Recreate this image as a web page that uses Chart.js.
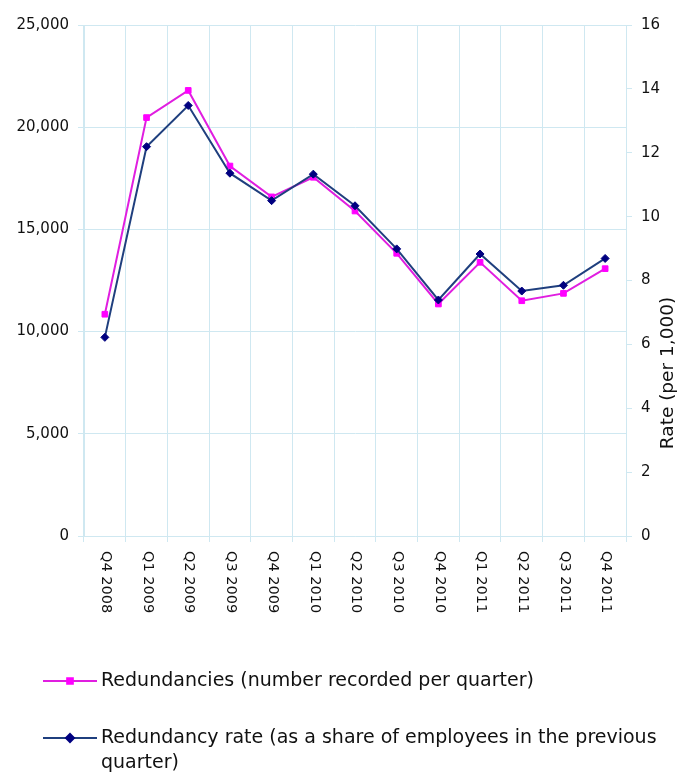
<!DOCTYPE html>
<html>
<head>
<meta charset="utf-8">
<script src="https://cdn.jsdelivr.net/npm/chart.js@4/dist/chart.umd.min.js"></script>
<style>
  html, body { margin: 0; padding: 0; background: #fff; }
  #wrap { position: relative; width: 681px; height: 775px; }
</style>
</head>
<body>
<div id="wrap"><canvas id="redChart"></canvas></div>
<script>
// Quarterly redundancies and redundancy rate
const quarters = ['Q4 2008', 'Q1 2009', 'Q2 2009', 'Q3 2009', 'Q4 2009', 'Q1 2010', 'Q2 2010',
                  'Q3 2010', 'Q4 2010', 'Q1 2011', 'Q2 2011', 'Q3 2011', 'Q4 2011'];
const redundancies = [10850, 20470, 21800, 18100, 16590, 17550, 15900, 13830, 11350, 13390, 11510, 11870, 13080];
const rate = [6.22, 12.19, 13.48, 11.36, 10.50, 11.33, 10.34, 8.99, 7.39, 8.83, 7.67, 7.85, 8.69];

const labelNumbers = 'Redundancies (number recorded per quarter)';
const labelRate = 'Redundancy rate (as a share of employees in the previous quarter)';
const rightTitle = 'Rate (per 1,000)';

const FONT = '"DejaVu Sans", sans-serif';
const GRID = '#cfe8f1';

// x labels read top-to-bottom, right title reads bottom-to-top, legend below
const extras = {
    id: 'extras',
    afterDraw(chart) {
        const ctx = chart.ctx;
        const x = chart.scales.x;
        const area = chart.chartArea;
        ctx.save();
        ctx.fillStyle = '#111';
        ctx.font = '14.5px ' + FONT;
        ctx.textAlign = 'left';
        ctx.textBaseline = 'middle';
        quarters.forEach((q, i) => {
            ctx.save();
            ctx.translate(x.getPixelForValue(i) + 1, area.bottom + 15);
            ctx.rotate(Math.PI / 2);
            ctx.fillText(q, 0, 0);
            ctx.restore();
        });

        ctx.save();
        ctx.font = '18.5px ' + FONT;
        ctx.textAlign = 'center';
        ctx.translate(668, 373);
        ctx.rotate(-Math.PI / 2);
        ctx.fillText(rightTitle, 0, 0);
        ctx.restore();

        // legend
        const rows = [681, 738];
        chart.data.datasets.forEach((ds, i) => {
            const y = rows[i];
            ctx.strokeStyle = ds.borderColor;
            ctx.lineWidth = 2;
            ctx.beginPath();
            ctx.moveTo(43, y);
            ctx.lineTo(97, y);
            ctx.stroke();
            ctx.fillStyle = ds.pointBackgroundColor;
            ctx.strokeStyle = ds.pointBorderColor;
            Chart.helpers.drawPoint(ctx, {
                pointStyle: ds.pointStyle,
                radius: ds.pointRadius,
                borderWidth: 1
            }, 70, y);
            ctx.fillStyle = '#111';
            ctx.font = '19px ' + FONT;
            ctx.textAlign = 'left';
            // simple word wrap
            const words = ds.label.split(' ');
            let line = '';
            let ly = y;
            words.forEach(w => {
                const test = line ? line + ' ' + w : w;
                if (ctx.measureText(test).width > 570 && line) {
                    ctx.fillText(line, 101, ly);
                    line = w;
                    ly += 25;
                } else {
                    line = test;
                }
            });
            ctx.fillText(line, 101, ly);
        });
        ctx.restore();
    }
};

new Chart(document.getElementById('redChart'), {
    type: 'line',
    data: {
        labels: quarters,
        datasets: [{
            label: labelNumbers,
            data: redundancies,
            yAxisID: 'y',
            borderColor: '#e01ee0',
            borderWidth: 2,
            pointStyle: 'rect',
            pointRadius: 4,
            pointBackgroundColor: '#ff00ff',
            pointBorderColor: '#ff00ff',
            pointBorderWidth: 1,
            tension: 0,
            order: 2
        }, {
            label: labelRate,
            data: rate,
            yAxisID: 'y1',
            borderColor: '#1f3f7e',
            borderWidth: 2,
            pointStyle: 'rectRot',
            pointRadius: 4,
            pointBackgroundColor: '#000080',
            pointBorderColor: '#000080',
            pointBorderWidth: 1,
            tension: 0,
            order: 1
        }]
    },
    options: {
        responsive: true,
        maintainAspectRatio: false,
        animation: false,
        layout: { padding: { top: 25 } },
        plugins: { legend: { display: false }, tooltip: { enabled: false } },
        scales: {
            x: {
                offset: true,
                grid: { color: GRID, offset: true, drawTicks: true, tickLength: 6 },
                border: { color: GRID },
                ticks: { display: false },
                afterFit: s => { s.height = 775 - 536; }
            },
            y: {
                position: 'left',
                min: 0,
                max: 25000,
                grid: { color: GRID, tickLength: 6 },
                border: { color: GRID },
                ticks: {
                    stepSize: 5000,
                    color: '#111',
                    padding: 9,
                    font: { family: FONT, size: 15 },
                    callback: v => v.toLocaleString('en-GB')
                },
                afterFit: s => { s.width = 84; }
            },
            y1: {
                position: 'right',
                min: 0,
                max: 16,
                grid: { drawOnChartArea: false, color: GRID, tickLength: 6 },
                border: { color: GRID },
                ticks: {
                    stepSize: 2,
                    color: '#111',
                    padding: 9,
                    font: { family: FONT, size: 15 }
                },
                afterFit: s => { s.width = 681 - 626; }
            }
        }
    },
    plugins: [extras]
});
</script>
</body>
</html>
